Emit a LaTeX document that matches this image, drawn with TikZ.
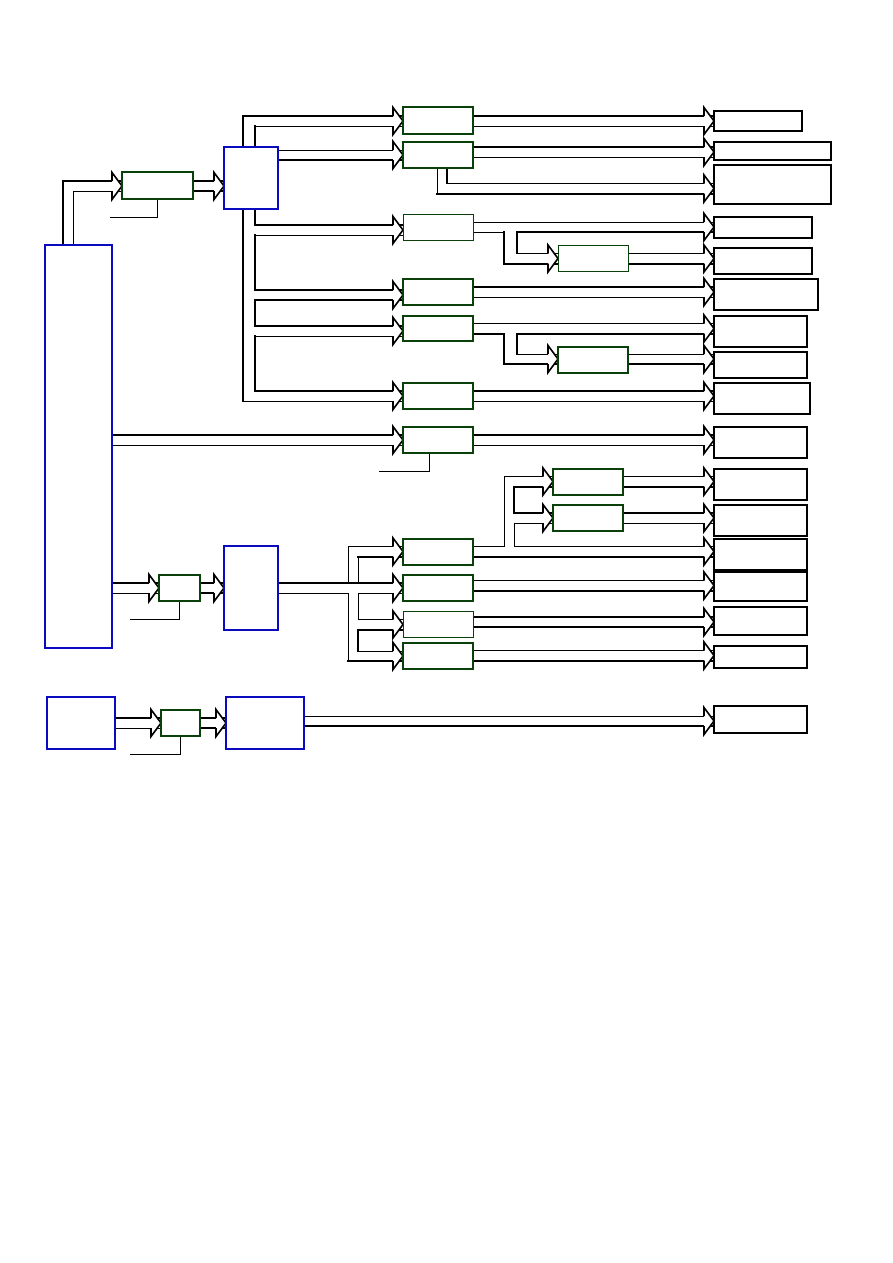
\documentclass[tikz,border=0pt]{standalone}
\usepackage{tikz}
\usetikzlibrary{calc,backgrounds}
\definecolor{boxblue}{RGB}{10,10,190}
\definecolor{boxgreen}{RGB}{10,65,10}
% open head of a hollow arrow, tip on the west side of node #1 at height #2
\newcommand{\arrowin}[2]{%
  \fill[white] ($(#1.west |- 0,#2)+(-10,-13.5)$) -- (#1.west |- 0,#2) -- ++(-10,13.5) -- cycle;
  \draw[hd] ($(#1.west |- 0,#2)+(-10,-5)$) -- ++(0,-8.5) -- (#1.west |- 0,#2) -- ++(-10,13.5) -- ++(0,-8.5);}

\begin{document}
\begin{tikzpicture}[x=1pt, y=-1pt, line join=miter,
    bbox/.style={draw=boxblue, line width=1.5pt, fill=white, anchor=north west, outer sep=0pt},
    gbox/.style={draw=boxgreen, line width=1.5pt, fill=white, anchor=north west, outer sep=0pt},
    gthin/.style={gbox, line width=1pt},
    obox/.style={draw, line width=1.9pt, fill=white, anchor=north west, outer sep=0pt},
    othin/.style={obox, line width=1.2pt},
    sz/.style 2 args={minimum width=#1pt, minimum height=#2pt, inner sep=0pt},
    tk/.style={line width=2pt, line cap=rect},
    tn/.style={line width=1pt, line cap=rect},
    hd/.style={line width=1.6pt}]
  \useasboundingbox (0,0) rectangle (893,1263);

  % sources and bus boxes
  \node[bbox, sz={67}{403}] (main) at (45,245) {};
  \node[gbox, sz={71}{27}] (g1) at (122,172) {};
  \node[bbox, sz={54}{62}] (bb) at (224,147) {};
  \node[gbox, sz={41}{26}] (g2) at (159,575) {};
  \node[bbox, sz={54}{84}] (be) at (224,546) {};
  \node[bbox, sz={68}{52}] (bg) at (47,697) {};
  \node[gbox, sz={39}{26}] (g3) at (161,710) {};
  \node[bbox, sz={78}{52}] (bh) at (226,697) {};

  % middle column
  \node[gbox, sz={70}{27}] (c1) at (403,107) {};
  \node[gbox, sz={70}{26}] (c2) at (403,142) {};
  \node[gthin, sz={70}{26}] (c3) at (403,214) {};
  \node[gbox, sz={70}{26}] (c4) at (403,279) {};
  \node[gbox, sz={70}{25}] (c5) at (403,316) {};
  \node[gbox, sz={70}{26}] (c6) at (403,383) {};
  \node[gbox, sz={70}{26}] (c7) at (403,427) {};
  \node[gbox, sz={70}{26}] (f1) at (403,539) {};
  \node[gbox, sz={70}{26}] (f2) at (403,575) {};
  \node[gthin, sz={70}{26}] (f3) at (403,611) {};
  \node[gbox, sz={70}{26}] (f4) at (403,643) {};
  \node[gthin, sz={70}{26}] (d1) at (558,245) {};
  \node[gbox, sz={70}{26}] (d2) at (558,347) {};
  \node[gbox, sz={70}{26}] (d3) at (553,469) {};
  \node[gbox, sz={70}{26}] (d4) at (553,505) {};

  % outputs
  \node[othin, sz={88}{20}] (r1) at (714,111) {};
  \node[obox, sz={117}{18}] (r2) at (714,142) {};
  \node[obox, sz={117}{39}] (r3) at (714,165) {};
  \node[obox, sz={98}{21}] (r4) at (714,217) {};
  \node[obox, sz={98}{26}] (r5) at (714,248) {};
  \node[obox, sz={104}{31}] (r6) at (714,279) {};
  \node[obox, sz={93}{31}] (r7) at (714,316) {};
  \node[obox, sz={93}{26}] (r8) at (714,352) {};
  \node[obox, sz={96}{31}] (r9) at (714,383) {};
  \node[othin, sz={93}{31}] (r10) at (714,427) {};
  \node[obox, sz={93}{31}] (r11) at (714,469) {};
  \node[obox, sz={93}{31}] (r12) at (714,505) {};
  \node[obox, sz={93}{31}] (r13) at (714,539) {};
  \node[obox, sz={93}{29}] (r14) at (714,572) {};
  \node[obox, sz={93}{28}] (r15) at (714,607) {};
  \node[othin, sz={93}{22}] (r16) at (714,646) {};
  \node[othin, sz={93}{27}] (r17) at (714,706) {};

  \begin{scope}[on background layer]
    % main -> g1 -> bb
    \draw[tk] (main.north -| 63,0) |- (g1.west |- 0,181);
    \draw[tn] (main.north -| 73,0) |- (g1.west |- 0,191);
    \draw[tk] (g1.east |- 0,181) -- (bb.west |- 0,181);
    \draw[tk] (g1.east |- 0,191) -- (bb.west |- 0,191);
    \coordinate (s1) at (110,217);
    \draw[tn] (s1) -| (g1.south);
    \arrowin{g1}{186} \arrowin{bb}{186}

    % bus bb -> c1..c6
    \draw[tk] (243,401) |- (c1.west |- 0,116);
    \draw[tn] (243,401) -- (c6.west |- 0,401);
    \draw[tk] (255,126) |- (c3.west |- 0,225);
    \draw[tn] (255,126) -- (c1.west |- 0,126);
    \draw[tn] (bb.east |- 0,150) -- (c2.west |- 0,150);
    \draw[tk] (bb.east |- 0,160) -- (c2.west |- 0,160);
    \draw[tk] (255,235) |- (c4.west |- 0,290);
    \draw[tn] (255,235) -- (c3.west |- 0,235);
    \draw[tk] (c4.west |- 0,300) -| (255,326) -- (c5.west |- 0,326);
    \draw[tk] (255,336) |- (c6.west |- 0,391);
    \draw[tn] (255,336) -- (c5.west |- 0,336);
    \foreach \n/\y in {c1/121,c2/155,c3/230,c4/295,c5/331,c6/396} {\arrowin{\n}{\y}}

    % c1..c6 -> outputs
    \draw[tk] (c1.east |- 0,116) -- (r1.west |- 0,116);
    \draw[tn] (c1.east |- 0,126) -- (r1.west |- 0,126);
    \draw[tk] (c2.east |- 0,147) -- (r2.west |- 0,147);
    \draw[tn] (c2.east |- 0,157) -- (r2.west |- 0,157);
    \draw[tk] (c2.south -| 447,0) -- (447,183);
    \draw[tn] (447,183) -- (r3.west |- 0,183);
    \draw[tn] (c2.south -| 437,0) -- (437,194);
    \draw[tk] (437,194) -- (r3.west |- 0,194);
    \draw[tn] (c3.east |- 0,222) -- (r4.west |- 0,222);
    \draw[tn] (c3.east |- 0,232) -- (504,232);
    \draw[tk] (504,232) |- (d1.west |- 0,264);
    \draw[tk] (517,253) |- (r4.west |- 0,232);
    \draw[tn] (517,253) -- (d1.west |- 0,253);
    \draw[tn] (d1.east |- 0,253) -- (r5.west |- 0,253);
    \draw[tk] (d1.east |- 0,264) -- (r5.west |- 0,264);
    \draw[tk] (c4.east |- 0,287) -- (r6.west |- 0,287);
    \draw[tn] (c4.east |- 0,297) -- (r6.west |- 0,297);
    \draw[tn] (c5.east |- 0,323) -- (r7.west |- 0,323);
    \draw[tk] (c5.east |- 0,334) -| (504,364) -- (d2.west |- 0,364);
    \draw[tk] (517,354) |- (r7.west |- 0,334);
    \draw[tn] (517,354) -- (d2.west |- 0,354);
    \draw[tn] (d2.east |- 0,354) -- (r8.west |- 0,354);
    \draw[tk] (d2.east |- 0,364) -- (r8.west |- 0,364);
    \draw[tk] (c6.east |- 0,391) -- (r9.west |- 0,391);
    \draw[tn] (c6.east |- 0,401) -- (r9.west |- 0,401);
    \foreach \n/\y in {r1/121,r2/152,r3/188.5,r4/227,d1/258.5,r5/258.5,r6/292,r7/328.5,d2/359,r8/359,r9/396} {\arrowin{\n}{\y}}

    % main -> c7 -> r10
    \draw[tk] (main.east |- 0,435) -- (c7.west |- 0,435);
    \draw[tn] (main.east |- 0,445) -- (c7.west |- 0,445);
    \draw[tk] (c7.east |- 0,435) -- (r10.west |- 0,435);
    \draw[tn] (c7.east |- 0,445) -- (r10.west |- 0,445);
    \coordinate (s2) at (379,471);
    \draw[tn] (s2) -| ([xshift=-9pt]c7.south);
    \arrowin{c7}{440} \arrowin{r10}{440}

    % main -> g2 -> be -> f1..f4
    \draw[tk] (main.east |- 0,583) -- (g2.west |- 0,583);
    \draw[tn] (main.east |- 0,593) -- (g2.west |- 0,593);
    \draw[tk] (g2.east |- 0,583) -- (be.west |- 0,583);
    \draw[tk] (g2.east |- 0,593) -- (be.west |- 0,593);
    \coordinate (s3) at (130,619);
    \draw[tn] (s3) -| (g2.south);
    \draw[tk] (be.east |- 0,583) -- (f2.west |- 0,583);
    \draw[tn] (348,583) |- (f1.west |- 0,546);
    \draw[tn] (be.east |- 0,593) -| (348,661);
    \draw[tk] (348,661) -- (f4.west |- 0,661);
    \draw[tn] (358,583) -- (358,557);
    \draw[tk] (358,557) -- (f1.west |- 0,557);
    \draw[tn] (f2.west |- 0,593) -| (358,619) -- (f3.west |- 0,619);
    \draw[tk] (f3.west |- 0,630) -| (358,651);
    \draw[tn] (358,651) -- (f4.west |- 0,651);
    \foreach \n/\y in {g2/588,be/588,f1/551.5,f2/588,f3/624.5,f4/656} {\arrowin{\n}{\y}}

    % f1..f4 -> outputs
    \draw[tn] (f1.east |- 0,546) -| (504,476) -- (d3.west |- 0,476);
    \draw[tk] (f1.east |- 0,557) -- (r13.west |- 0,557);
    \draw[tk] (d3.west |- 0,487) -| (514,513) -- (d4.west |- 0,513);
    \draw[tn] (d4.west |- 0,523) -| (514,546) -- (r13.west |- 0,546);
    \draw[tn] (d3.east |- 0,476) -- (r11.west |- 0,476);
    \draw[tk] (d3.east |- 0,487) -- (r11.west |- 0,487);
    \draw[tk] (d4.east |- 0,513) -- (r12.west |- 0,513);
    \draw[tn] (d4.east |- 0,523) -- (r12.west |- 0,523);
    \draw[tn] (f2.east |- 0,580) -- (r14.west |- 0,580);
    \draw[tk] (f2.east |- 0,591) -- (r14.west |- 0,591);
    \draw[tk] (f3.east |- 0,617) -- (r15.west |- 0,617);
    \draw[tk] (f3.east |- 0,627) -- (r15.west |- 0,627);
    \draw[tn] (f4.east |- 0,650) -- (r16.west |- 0,650);
    \draw[tk] (f4.east |- 0,661) -- (r16.west |- 0,661);
    \foreach \n/\y in {d3/481.5,d4/518,r11/481.5,r12/518,r13/551.5,r14/585.5,r15/622,r16/655.5} {\arrowin{\n}{\y}}

    % bg -> g3 -> bh -> r17
    \draw[tk] (bg.east |- 0,718) -- (g3.west |- 0,718);
    \draw[tn] (bg.east |- 0,728) -- (g3.west |- 0,728);
    \draw[tk] (g3.east |- 0,718) -- (bh.west |- 0,718);
    \draw[tk] (g3.east |- 0,728) -- (bh.west |- 0,728);
    \draw[tn] (bh.east |- 0,716) -- (r17.west |- 0,716);
    \draw[tk] (bh.east |- 0,726) -- (r17.west |- 0,726);
    \coordinate (s4) at (130,754);
    \draw[tn] (s4) -| (g3.south);
    \foreach \n/\y in {g3/723,bh/723,r17/721} {\arrowin{\n}{\y}}
  \end{scope}
\end{tikzpicture}
\end{document}
